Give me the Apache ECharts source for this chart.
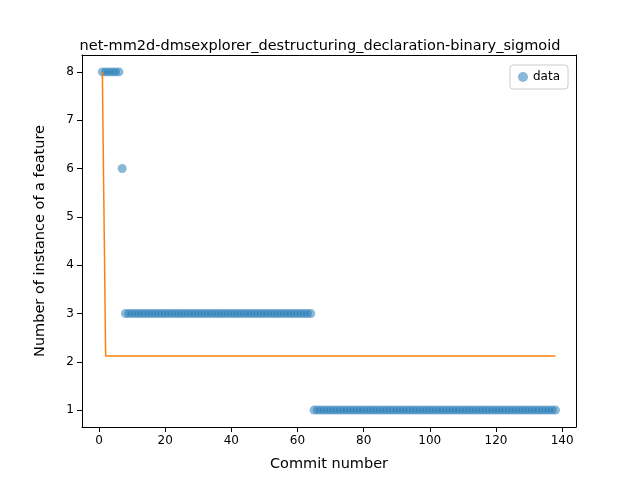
<!DOCTYPE html>
<html>
<head>
<meta charset="utf-8">
<script src="https://cdn.jsdelivr.net/npm/echarts@6/dist/echarts.min.js"></script>
<style>html,body{margin:0;padding:0;background:#fff}#chart{width:640px;height:480px}</style>
</head>
<body>
<div id="chart"></div>
<script>
"use strict";

// data
var commits = [];
for (var c = 1; c <= 138; c++) commits.push(c);
var highRuns = [[1, 6, 8], [7, 7, 6], [8, 64, 3], [65, 138, 1]];
var fitX = [1, 2, 138];
var fitY = [8, 2.12, 2.12];
var xTicks = [0, 20, 40, 60, 80, 100, 120, 140];
var yTicks = [1, 2, 3, 4, 5, 6, 7, 8];

var points = [];
commits.forEach(function (x) {
  highRuns.forEach(function (r) {
    if (x >= r[0] && x <= r[1]) points.push([x, r[2]]);
  });
});
var fit = fitX.map(function (x, i) { return [x, fitY[i]]; });

var chart = echarts.init(document.getElementById('chart'));
var font = 'DejaVu Sans';
var boxAxis = {
  type: 'value', splitLine: {show: false},
  axisLine: {show: true, onZero: false, lineStyle: {color: '#000'}},
  axisTick: {show: false}, axisLabel: {show: false}
};
chart.setOption({
  backgroundColor: '#ffffff',
  animation: false,
  title: {
    text: 'net-mm2d-dmsexplorer_destructuring_declaration-binary_sigmoid',
    left: 'center', top: 34,
    textStyle: {fontFamily: font, fontSize: 14.5, fontWeight: 'normal', color: '#000'}
  },
  legend: {
    data: [{name: 'data', icon: 'circle'}],
    right: 72, top: 65,
    itemWidth: 10, itemHeight: 10,
    padding: [6, 8], borderColor: '#ccc', borderWidth: 1, borderRadius: 3,
    textStyle: {fontFamily: font, fontSize: 12, color: '#000'}
  },
  grid: {left: 82, right: 64, top: 55, bottom: 53},
  xAxis: [{
    type: 'value', min: -5.15, max: 144.2,
    name: 'Commit number', nameLocation: 'center', nameGap: 30,
    nameTextStyle: {fontFamily: font, fontSize: 14.5, color: '#000'},
    splitLine: {show: false},
    axisLine: {onZero: false, lineStyle: {color: '#000'}},
    axisTick: {customValues: xTicks, lineStyle: {color: '#000'}},
    axisLabel: {customValues: xTicks, fontFamily: font, fontSize: 12, color: '#000'}
  }, Object.assign({position: 'top', min: -5.15, max: 144.2}, boxAxis)],
  yAxis: [{
    type: 'value', min: 0.65, max: 8.35,
    name: 'Number of instance of a feature', nameLocation: 'center', nameGap: 34,
    nameTextStyle: {fontFamily: font, fontSize: 14.5, color: '#000'},
    splitLine: {show: false},
    axisLine: {onZero: false, lineStyle: {color: '#000'}},
    axisTick: {customValues: yTicks, lineStyle: {color: '#000'}},
    axisLabel: {customValues: yTicks, fontFamily: font, fontSize: 12, color: '#000'}
  }, Object.assign({position: 'right', min: 0.65, max: 8.35}, boxAxis)],
  series: [{
    name: 'data', type: 'scatter', data: points, symbolSize: 9,
    itemStyle: {color: 'rgba(31,119,180,0.65)'}
  }, {
    name: 'fit', type: 'line', data: fit, symbol: 'none',
    lineStyle: {color: '#ff7f0e', width: 1.5}
  }]
});
</script>
</body>
</html>
